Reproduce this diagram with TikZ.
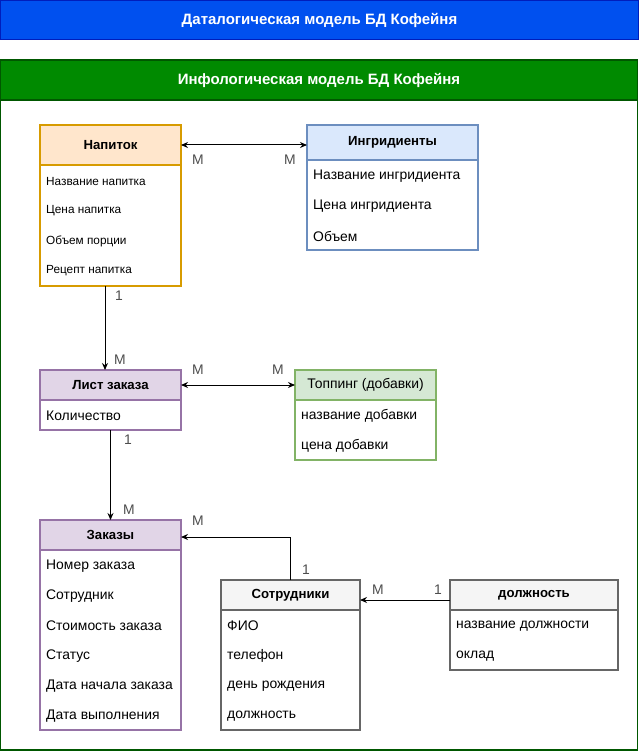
\documentclass[tikz,border=0pt]{standalone}
\usepackage{fontspec}
\setmainfont{Liberation Sans}
\usetikzlibrary{arrows.meta}
\definecolor{bluef}{HTML}{0050EF}
\definecolor{blues}{HTML}{001DBC}
\definecolor{greenf}{HTML}{008A00}
\definecolor{greens}{HTML}{005700}
\definecolor{orf}{HTML}{FFE6CC}
\definecolor{ors}{HTML}{D79B00}
\definecolor{lbf}{HTML}{DAE8FC}
\definecolor{lbs}{HTML}{6C8EBF}
\definecolor{puf}{HTML}{E1D5E7}
\definecolor{pus}{HTML}{9673A6}
\definecolor{grf}{HTML}{D5E8D4}
\definecolor{grs}{HTML}{82B366}
\definecolor{gyf}{HTML}{F5F5F5}
\definecolor{gys}{HTML}{666666}
\definecolor{lbl}{HTML}{4D4D4D}
\tikzset{
  box/.style={rectangle, anchor=north west, inner sep=0pt, outer sep=0pt, line width=1.2pt},
  banner/.style={box, text=white},
  ttl/.style={text=white, font=\fontsize{15}{18}\selectfont\bfseries},
  hdr/.style={font=\fontsize{13.2}{16}\selectfont\bfseries},
  row/.style={anchor=west, inner sep=0pt, font=\fontsize{13.9}{16}\selectfont},
  srow/.style={anchor=west, inner sep=0pt, font=\fontsize{11.8}{14}\selectfont},
  arr/.style={line width=1pt, -{Stealth[length=7pt,width=6pt]}},
  barr/.style={line width=1pt, {Stealth[length=7pt,width=6pt]}-{Stealth[length=7pt,width=6pt]}},
  card/.style={text=lbl, font=\fontsize{13.9}{16}\selectfont, inner sep=0pt}
}
\begin{document}
\begin{tikzpicture}[x=1pt,y=-1pt]
\useasboundingbox (0,0) rectangle (639,751);
% banners
\node[banner, fill=bluef, draw=blues, minimum width=638pt, minimum height=39pt] (dbanner) at (0.5,0.5) {};
\node[ttl] (dtitle) at (dbanner.center) {Даталогическая модель БД Кофейня};
\node[box, draw=greens, minimum width=637pt, minimum height=690pt] (gframe) at (0.5,60) {};
\node[box, fill=greenf, draw=greens, minimum width=637pt, minimum height=40pt] (gbanner) at (0.5,60) {};
\node[ttl] (gtitle) at (gbanner.center) {Инфологическая модель БД Кофейня};

% Напиток
\node[box, draw=ors, fill=white, minimum width=141pt, minimum height=161pt] (napB) at (40,125) {};
\node[box, draw=ors, fill=orf, minimum width=141pt, minimum height=40pt, hdr] (napH) at (40,125) {Напиток};
\node[srow] (nap1) at (46,181) {Название напитка};
\node[srow] (nap2) at (46,211) {Цена напитка};
\node[srow] (nap3) at (46,241) {Объем порции};
\node[srow] (nap4) at (46,271) {Рецепт напитка};

% Ингридиенты
\node[box, draw=lbs, fill=white, minimum width=171pt, minimum height=125pt] (ingB) at (307,125) {};
\node[box, draw=lbs, fill=lbf, minimum width=171pt, minimum height=35pt, hdr] (ingH) at (307,125) {Ингридиенты};
\node[row] (ing1) at (313,176) {Название ингридиента};
\node[row] (ing2) at (313,206) {Цена ингридиента};
\node[row] (ing3) at (313,236) {Объем};

% Лист заказа
\node[box, draw=pus, fill=white, minimum width=141pt, minimum height=60pt] (lstB) at (40,370) {};
\node[box, draw=pus, fill=puf, minimum width=141pt, minimum height=30pt, hdr] (lstH) at (40,370) {Лист заказа};
\node[row] (lst1) at (46,416) {Количество};

% Топпинг
\node[box, draw=grs, fill=white, minimum width=141pt, minimum height=90pt] (topB) at (295,370) {};
\node[box, draw=grs, fill=grf, minimum width=141pt, minimum height=30pt, font=\fontsize{13.9}{16}\selectfont] (topH) at (295,370) {Топпинг (добавки)};
\node[row] (top1) at (301,416) {название добавки};
\node[row] (top2) at (301,446) {цена добавки};

% Заказы
\node[box, draw=pus, fill=white, minimum width=141pt, minimum height=210pt] (zakB) at (40,520) {};
\node[box, draw=pus, fill=puf, minimum width=141pt, minimum height=30pt, hdr] (zakH) at (40,520) {Заказы};
\node[row] (zak1) at (46,566) {Номер заказа};
\node[row] (zak2) at (46,596) {Сотрудник};
\node[row] (zak3) at (46,626) {Стоимость заказа};
\node[row] (zak4) at (46,656) {Статус};
\node[row] (zak5) at (46,686) {Дата начала заказа};
\node[row] (zak6) at (46,716) {Дата выполнения};

% Сотрудники
\node[box, draw=gys, fill=white, minimum width=139pt, minimum height=150pt] (sotB) at (221,580) {};
\node[box, draw=gys, fill=gyf, minimum width=139pt, minimum height=30pt, hdr] (sotH) at (221,580) {Сотрудники};
\node[row] (sot1) at (227,626) {ФИО};
\node[row] (sot2) at (227,656) {телефон};
\node[row] (sot3) at (227,686) {день рождения};
\node[row] (sot4) at (227,716) {должность};

% должность
\node[box, draw=gys, fill=white, minimum width=168pt, minimum height=90pt] (dolB) at (450,580) {};
\node[box, draw=gys, fill=gyf, minimum width=168pt, minimum height=30pt, hdr] (dolH) at (450,580) {должность};
\node[row] (dol1) at (456,626) {название должности};
\node[row] (dol2) at (456,656) {оклад};

% connectors
\draw[barr] (napH.east) -- (napH.east -| ingH.west);
\node[card] (c1) at (198,160) {M};
\node[card] (c2) at (290,160) {M};

\draw[arr] ([xshift=-5.5pt]napB.south) -- ([xshift=-5.5pt]lstH.north);
\node[card] (c3) at (119,296) {1};
\node[card] (c4) at (120,360) {M};

\draw[barr] (lstH.east) -- (topH.west);
\node[card] (c5) at (198,370) {M};
\node[card] (c6) at (278,370) {M};

\draw[arr] (lstB.south) -- (zakH.north);
\node[card] (c7) at (128,440) {1};
\node[card] (c8) at (129,510) {M};

\draw[arr] (sotH.north) |- ([yshift=-2pt]zakH.east);
\node[card] (c9) at (306,570) {1};
\node[card] (c10) at (198,521) {M};

\draw[arr] ([yshift=-5pt]dolH.west) -- ([yshift=-5pt]sotH.east);
\node[card] (c11) at (378,590) {M};
\node[card] (c12) at (438,590) {1};
\end{tikzpicture}
\end{document}
